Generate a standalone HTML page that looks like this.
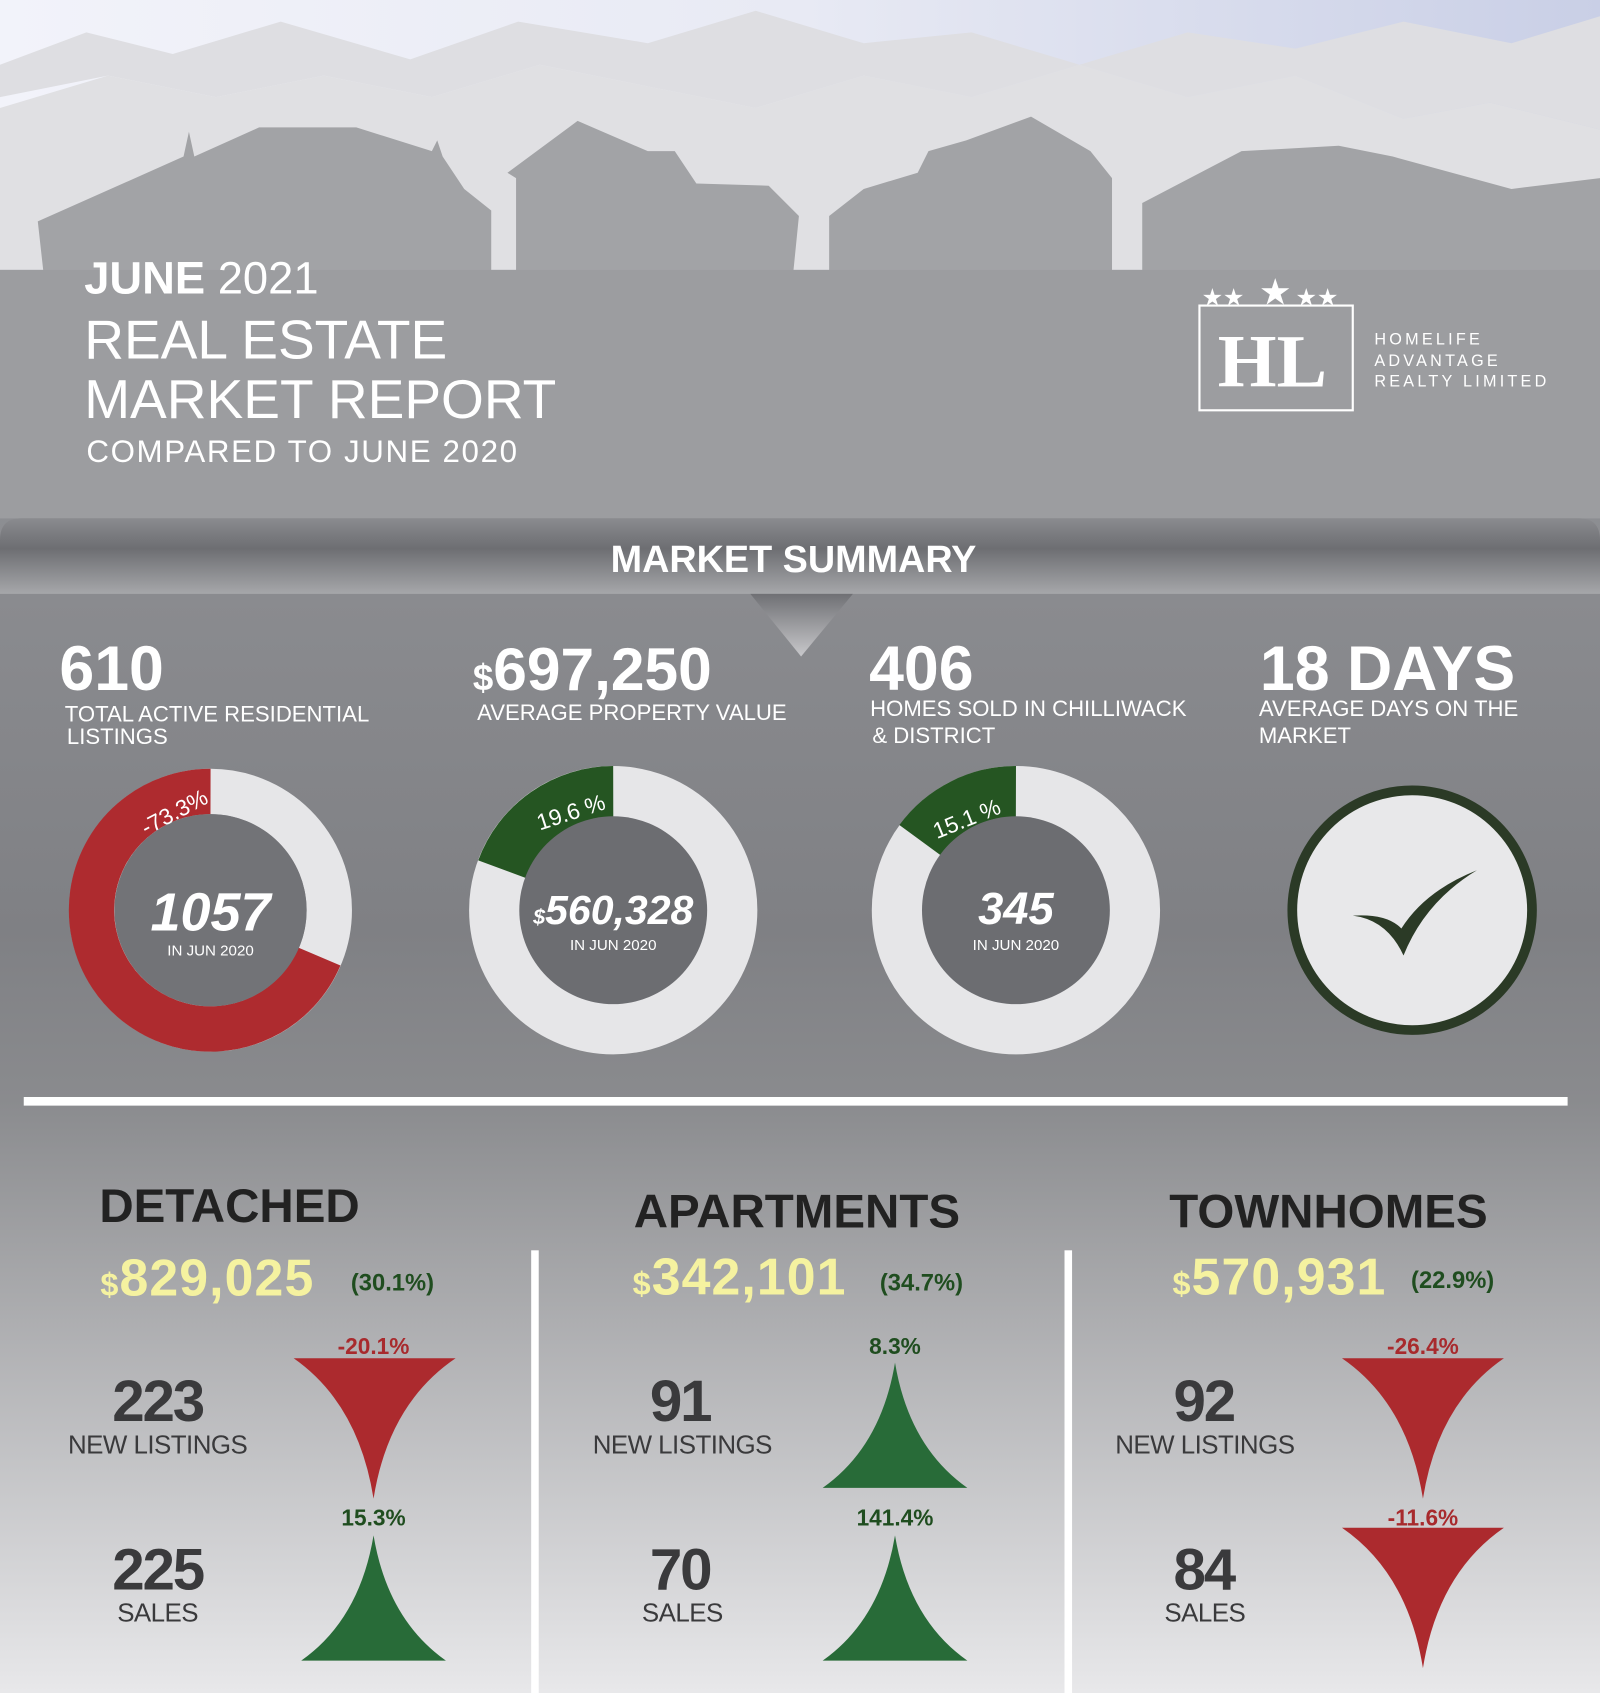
<!DOCTYPE html>
<html><head><meta charset="utf-8"><style>
html,body{margin:0;padding:0;width:1600px;height:1693px;overflow:hidden;background:#888}
svg{display:block}
text{font-family:"Liberation Sans",sans-serif}
</style></head><body>
<svg width="1600" height="1693" viewBox="0 0 1482 1568" preserveAspectRatio="none" xmlns="http://www.w3.org/2000/svg">
<defs>
<linearGradient id="sky" x1="0" y1="0" x2="1" y2="0"><stop offset="0" stop-color="#f2f3fa"/><stop offset="0.5" stop-color="#e8eaf4"/><stop offset="1" stop-color="#c9cfe6"/></linearGradient>
<linearGradient id="body" x1="0" y1="0" x2="0" y2="1">
<stop offset="0" stop-color="#9c9da0"/><stop offset="0.3" stop-color="#8d8e92"/><stop offset="0.55" stop-color="#7f8084"/><stop offset="0.65" stop-color="#8a8b8e"/><stop offset="1" stop-color="#e8e8ea"/></linearGradient>
<linearGradient id="ban" x1="0" y1="0" x2="0" y2="1"><stop offset="0" stop-color="#8a8b8f"/><stop offset="0.4" stop-color="#6d6e72"/><stop offset="1" stop-color="#a6a7aa"/></linearGradient>
<linearGradient id="tri" x1="0" y1="0" x2="0" y2="1"><stop offset="0" stop-color="#6f7074"/><stop offset="1" stop-color="#c8c8cb"/></linearGradient>
</defs>
<rect width="1482" height="1568" fill="url(#body)"/>
<rect width="1482" height="260" fill="url(#sky)"/>
<path d="M0 60 L80 30 L160 50 L260 20 L380 55 L480 20 L600 40 L700 10 L800 40 L900 30 L1000 60 L1100 30 L1200 45 L1300 20 L1400 40 L1482 15 L1482 120 L1380 95 L1300 110 L1200 70 L1100 90 L1000 60 L900 90 L800 70 L700 100 L600 80 L500 60 L400 90 L300 70 L200 90 L100 70 L0 90Z" fill="#dedee2"/>
<path d="M0 100 L100 70 L200 90 L300 70 L400 90 L500 60 L600 80 L700 100 L800 70 L900 90 L1000 60 L1100 90 L1200 70 L1300 110 L1380 95 L1482 120 L1482 260 L0 260Z" fill="#e0e0e3"/>
<path d="M0 250 L40 250 L35 205 L170 145 L175 122 L180 145 L240 118 L330 118 L400 140 L405 130 L410 145 L430 175 L455 195 L455 250 L478 250 L478 165 L470 160 L535 112 L600 140 L625 140 L645 170 L712 172 L740 200 L735 250 L768 250 L768 200 L800 175 L850 160 L860 140 L895 130 L955 108 L1010 140 L1030 165 L1030 250 L1058 250 L1058 188 L1150 140 L1240 135 L1290 145 L1400 175 L1482 165 L1482 480 L0 480Z" fill="#a2a3a6"/>
<rect x="0" y="250" width="1482" height="230" fill="#9c9da0"/>
<text x="78" y="272" fill="#fff" font-size="42"><tspan font-weight="bold">JUNE</tspan> 2021</text>
<text x="78" y="332" fill="#fff" font-size="51">REAL ESTATE</text>
<text x="78" y="387" fill="#fff" font-size="51">MARKET REPORT</text>
<text x="80" y="428" fill="#fff" font-size="29" letter-spacing="1.5">COMPARED TO JUNE 2020</text>
<g fill="#fff"><text x="1113" y="283" font-size="22">★★</text><text x="1166" y="282" font-size="34">★</text><text x="1200" y="283" font-size="22">★★</text></g>
<rect x="1111" y="283" width="142" height="97" fill="none" stroke="#fff" stroke-width="2"/>
<text x="1128" y="358" fill="#fff" font-size="70" style="font-family:'Liberation Serif',serif" font-weight="bold">HL</text>
<g fill="#fff" font-size="15" letter-spacing="3" style="font-family:'Liberation Serif',serif"><text x="1273" y="319">HOMELIFE</text><text x="1273" y="339">ADVANTAGE</text><text x="1273" y="358">REALTY LIMITED</text></g>
<path d="M0 500 Q0 480 20 480 L1462 480 Q1482 480 1482 500 L1482 550 L0 550Z" fill="url(#ban)"/>
<path d="M695 550 L790 550 L742 608Z" fill="url(#tri)"/>
<text x="735" y="530" text-anchor="middle" fill="#fff" font-size="35" font-weight="bold">MARKET SUMMARY</text>
<g fill="#fff">
<text x="55" y="639" font-size="58" font-weight="bold">610</text>
<text x="60" y="668" font-size="20.5">TOTAL ACTIVE RESIDENTIAL</text><text x="62" y="689" font-size="20.5">LISTINGS</text>
<text x="438" y="639" font-size="56" font-weight="bold"><tspan font-size="34">$</tspan>697,250</text>
<text x="442" y="667" font-size="20.5">AVERAGE PROPERTY VALUE</text>
<text x="805" y="639" font-size="58" font-weight="bold">406</text>
<text x="806" y="663" font-size="20.5">HOMES SOLD IN CHILLIWACK</text><text x="808" y="688" font-size="20.5">&amp; DISTRICT</text>
<text x="1167" y="639" font-size="58" font-weight="bold">18 DAYS</text>
<text x="1166" y="663" font-size="20.5">AVERAGE DAYS ON THE</text><text x="1166" y="688" font-size="20.5">MARKET</text>
</g>
<circle cx="195" cy="843" r="110" fill="none" stroke="#e6e6e8" stroke-width="42"/>
<path d="M195 733 A110 110 0 1 0 296 886" fill="none" stroke="#ae2b2f" stroke-width="42"/>
<circle cx="195" cy="843" r="89" fill="#727377"/>
<text x="130" y="768" fill="#fff" font-size="21" transform="rotate(-28 145 760)">-73.3%</text>
<text x="195" y="862" text-anchor="middle" fill="#fff" font-size="50" font-weight="bold" font-style="italic">1057</text>
<text x="195" y="885" text-anchor="middle" fill="#fff" font-size="14">IN JUN 2020</text>
<circle cx="568" cy="843" r="110" fill="none" stroke="#e6e6e8" stroke-width="47"/>
<path d="M568 733 A110 110 0 0 0 465 805" fill="none" stroke="#255522" stroke-width="47"/>
<circle cx="568" cy="843" r="87" fill="#6c6d71"/>
<text x="495" y="762" fill="#fff" font-size="21" transform="rotate(-18 520 750)">19.6 %</text>
<text x="568" y="856" text-anchor="middle" fill="#fff" font-size="38" font-weight="bold" font-style="italic"><tspan font-size="20">$</tspan>560,328</text>
<text x="568" y="880" text-anchor="middle" fill="#fff" font-size="14">IN JUN 2020</text>
<circle cx="941" cy="843" r="110" fill="none" stroke="#e6e6e8" stroke-width="47"/>
<path d="M941 733 A110 110 0 0 0 852 778" fill="none" stroke="#255522" stroke-width="47"/>
<circle cx="941" cy="843" r="87" fill="#6c6d71"/>
<text x="860" y="767" fill="#fff" font-size="21" transform="rotate(-22 890 752)">15.1 %</text>
<text x="941" y="856" text-anchor="middle" fill="#fff" font-size="42" font-weight="bold" font-style="italic">345</text>
<text x="941" y="880" text-anchor="middle" fill="#fff" font-size="14">IN JUN 2020</text>
<circle cx="1308" cy="843" r="111" fill="#e8e8ea" stroke="#2b3a26" stroke-width="9"/>
<path d="M1253 848 Q1285 852 1300 885 Q1320 835 1368 806 Q1320 825 1298 860 Q1285 846 1253 848Z" fill="#2b3a26"/>
<rect x="22" y="1016" width="1430" height="8" fill="#fff"/>
<rect x="492" y="1158" width="7" height="410" fill="#fff"/>
<rect x="986" y="1158" width="7" height="410" fill="#fff"/>
<g font-weight="bold">
<text x="92" y="1132" font-size="44" fill="#222">DETACHED</text>
<text x="587" y="1137" font-size="44" fill="#222">APARTMENTS</text>
<text x="1083" y="1137" font-size="44" fill="#222">TOWNHOMES</text>
<text x="93" y="1200" font-size="48" fill="#f5f2a0" letter-spacing="1"><tspan font-size="30">$</tspan>829,025</text>
<text x="325" y="1195" font-size="22" fill="#1f4d1f">(30.1%)</text>
<text x="586" y="1199" font-size="48" fill="#f5f2a0" letter-spacing="1"><tspan font-size="30">$</tspan>342,101</text>
<text x="815" y="1195" font-size="22" fill="#1f4d1f">(34.7%)</text>
<text x="1086" y="1199" font-size="48" fill="#f5f2a0" letter-spacing="1"><tspan font-size="30">$</tspan>570,931</text>
<text x="1307" y="1193" font-size="22" fill="#1f4d1f">(22.9%)</text>
<g font-size="54" fill="#3a3a3c" text-anchor="middle" letter-spacing="-2">
<text x="146" y="1316">223</text><text x="146" y="1472">225</text>
<text x="630" y="1316">91</text><text x="630" y="1472">70</text>
<text x="1115" y="1316">92</text><text x="1115" y="1472">84</text></g>
<g font-size="21" text-anchor="middle">
<text x="346" y="1254" fill="#a82a2d">-20.1%</text><text x="346" y="1413" fill="#1f4d1f">15.3%</text>
<text x="829" y="1254" fill="#1f4d1f">8.3%</text><text x="829" y="1413" fill="#1f4d1f">141.4%</text>
<text x="1318" y="1254" fill="#a82a2d">-26.4%</text><text x="1318" y="1413" fill="#a82a2d">-11.6%</text></g>
</g>
<g font-size="24" fill="#3a3a3c" text-anchor="middle" letter-spacing="-0.5">
<text x="146" y="1346">NEW LISTINGS</text><text x="146" y="1502">SALES</text>
<text x="632" y="1346">NEW LISTINGS</text><text x="632" y="1502">SALES</text>
<text x="1116" y="1346">NEW LISTINGS</text><text x="1116" y="1502">SALES</text></g>
<g fill="#ac2a2e">
<path d="M272 1258 L422 1258 Q360 1300 346 1388 Q332 1300 272 1258Z"/>
<path d="M1243 1258 L1393 1258 Q1332 1300 1318 1388 Q1304 1300 1243 1258Z"/>
<path d="M1243 1415 L1393 1415 Q1332 1457 1318 1545 Q1304 1457 1243 1415Z"/>
</g>
<g fill="#286b38">
<path d="M829 1262 Q842 1340 896 1378 L762 1378 Q816 1340 829 1262Z"/>
<path d="M346 1422 Q359 1500 413 1538 L279 1538 Q333 1500 346 1422Z"/>
<path d="M829 1422 Q842 1500 896 1538 L762 1538 Q816 1500 829 1422Z"/>
</g>
</svg>
</body></html>
